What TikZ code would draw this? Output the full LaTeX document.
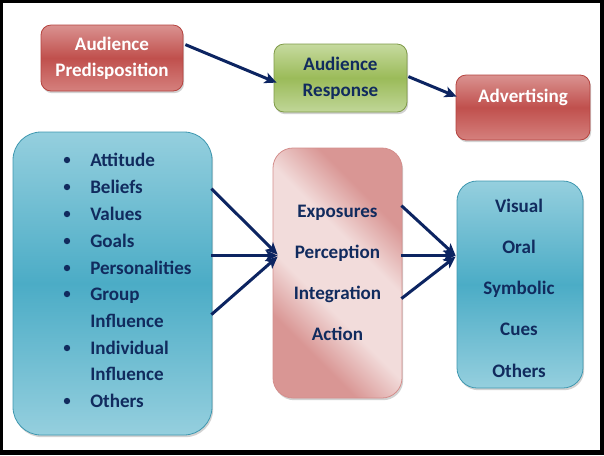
\documentclass[tikz,border=0pt]{standalone}
\usepackage{fontspec}
\setmainfont{Carlito}
\usetikzlibrary{arrows.meta,shadows}
\definecolor{txtblue}{HTML}{112B5E}
\definecolor{arrblue}{HTML}{0C2461}
\definecolor{redtop}{HTML}{DA9290}
\definecolor{redmid}{HTML}{C0504D}
\definecolor{redbot}{HTML}{D5807D}
\definecolor{redline}{HTML}{B5433F}
\definecolor{greentop}{HTML}{C6DA9F}
\definecolor{greenmid}{HTML}{9BBB59}
\definecolor{greenbot}{HTML}{C0D698}
\definecolor{greenline}{HTML}{7F9A48}
\definecolor{bluetop}{HTML}{95CFDE}
\definecolor{bluemid}{HTML}{4BACC6}
\definecolor{bluebot}{HTML}{95CFDE}
\definecolor{blueline}{HTML}{3F98B0}
\definecolor{pinkdark}{HTML}{D99694}
\definecolor{pinklight}{HTML}{F2DCDB}
\definecolor{pinkline}{HTML}{D48E8C}
\pgfdeclareverticalshading{pinkdiag}{100bp}{color(0bp)=(pinkdark); color(30bp)=(pinkdark); color(42bp)=(pinklight); color(58bp)=(pinklight); color(70bp)=(pinkdark); color(100bp)=(pinkdark)}
\begin{document}
\begin{tikzpicture}[x=0.75pt,y=-0.75pt,
  boxbase/.style={draw, line width=0.6pt, align=center, inner sep=0pt,
    font=\bfseries\fontsize{14.3}{19.5}\selectfont,
    drop shadow={shadow xshift=0.9pt, shadow yshift=-1.65pt, opacity=0.35}},
  redbox/.style={boxbase, draw=redline, top color=redtop, bottom color=redbot,
    middle color=redmid, text=white, rounded corners=7.5pt},
  greenbox/.style={boxbase, draw=greenline, top color=greentop, bottom color=greenbot,
    middle color=greenmid, text=txtblue, rounded corners=7.5pt},
  bluebox/.style={boxbase, draw=blueline, top color=bluetop, bottom color=bluebot,
    middle color=bluemid, text=txtblue},
  pinkbox/.style={boxbase, draw=pinkline, shading=pinkdiag, shading angle=-45,
    text=txtblue, rounded corners=15pt},
  listtxt/.style={inner sep=0pt, anchor=west, text=txtblue,
    font=\bfseries\fontsize{14.3}{16}\selectfont, text height=9.2pt, text depth=0pt},
  bulletdot/.style={circle, fill=txtblue, inner sep=0pt, minimum size=4.8pt},
  arr/.style={draw=arrblue, line width=2.25pt,
    -{Stealth[length=9pt, width=8.25pt, inset=2.25pt]}},
]
% frame
\fill[black] (0,0) rectangle (604,455);
\fill[white] (3,3) rectangle (600,450);

% top row
\node[redbox, minimum width=106.5pt, minimum height=49.5pt] (ap) at (112,58)
  {Audience\\Predisposition};
\node[greenbox, minimum width=99.75pt, minimum height=51pt] (ar) at (340.5,78)
  {Audience\\Response};
\node[redbox, minimum width=100.5pt, minimum height=48.75pt] (adv) at (523,107.5) {};
\node[inner sep=0pt, text=white, font=\bfseries\fontsize{14.3}{16}\selectfont] (advt) at (523,97.5) {Advertising};

% left list box
\node[bluebox, rounded corners=21pt, minimum width=149.25pt, minimum height=227.25pt] (lb) at (112.5,283.5) {};
\foreach \y [count=\i] in {160,187,214,241,268,294,348,401}
  \node[bulletdot] (bu\i) at (67,\y) {};
\foreach \y/\t [count=\i] in {160/Attitude,187/Beliefs,214/Values,241/Goals,268/Personalities,294/Group,321/Influence,348/Individual,374/Influence,401/Others}
  \node[listtxt] (li\i) at (90,\y) {\t};

% middle box
\node[pinkbox, minimum width=96.75pt, minimum height=187.5pt, font=\bfseries\fontsize{14.3}{30.9}\selectfont] (mb) at (337.5,273)
  {Exposures\\Perception\\Integration\\Action};

% right box
\node[bluebox, rounded corners=15pt, minimum width=94.5pt, minimum height=155.25pt] (rb) at (520,284.5) {};
\node[inner sep=0pt, align=center, text=txtblue, font=\bfseries\fontsize{14.3}{30.9}\selectfont] (rbt) at (519,288)
  {Visual\\Oral\\Symbolic\\Cues\\Others};

% arrows
\draw[arr] ([shift={(2,20)}]ap.north east) -- ([shift={(3,39)}]ar.north west);
\draw[arr] ([shift={(1,33)}]ar.north east) -- ([shift={(1,22)}]adv.north west);

\draw[arr] ([shift={(-1,57)}]lb.north east) -- ([shift={(5,107)}]mb.north west);
\draw[arr] ([shift={(-1,124)}]lb.north east) -- ([shift={(5,108)}]mb.north west);
\draw[arr] ([shift={(-1,183)}]lb.north east) -- ([shift={(5,109)}]mb.north west);

\draw[arr] ([shift={(-1,58)}]mb.north east) -- ([shift={(-1,75)}]rb.north west);
\draw[arr] ([shift={(-1,108)}]mb.north east) -- ([shift={(-1,75)}]rb.north west);
\draw[arr] ([shift={(-1,151)}]mb.north east) -- ([shift={(-1,76)}]rb.north west);
\end{tikzpicture}
\end{document}
